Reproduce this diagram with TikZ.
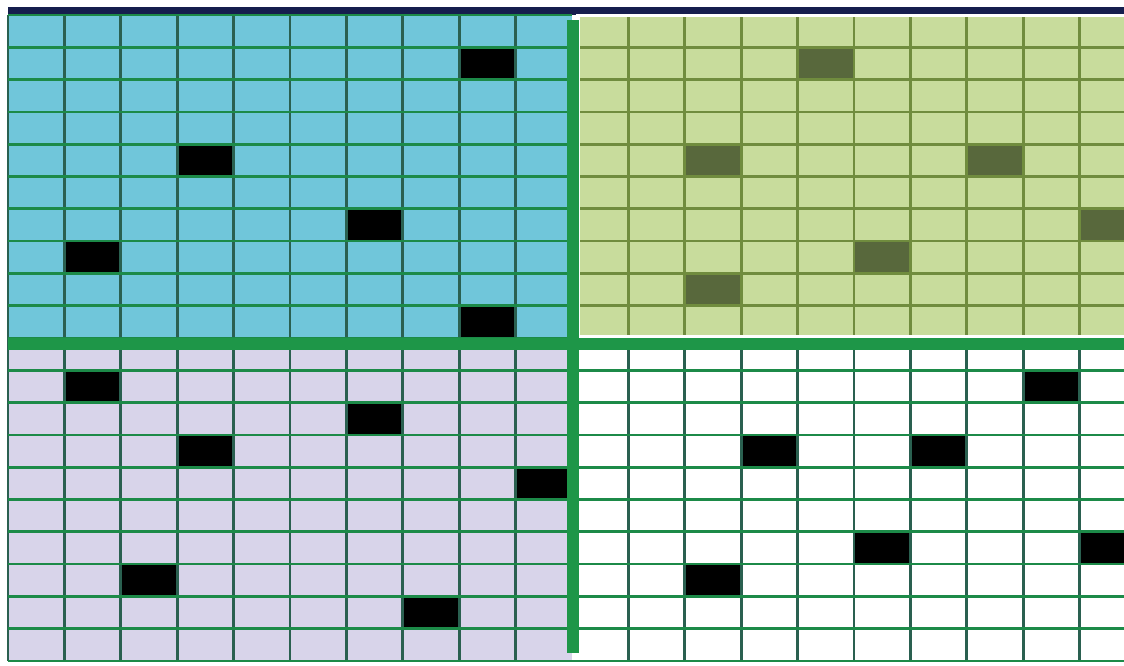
\documentclass[tikz,border=0pt]{standalone}
\usepackage{xcolor}
\usepackage{tikz}
\usetikzlibrary{positioning}
\definecolor{tlblue}{RGB}{112,198,218}
\definecolor{trgreen}{RGB}{200,220,156}
\definecolor{bllav}{RGB}{216,212,234}
\definecolor{gridh}{RGB}{28,138,72}
\definecolor{gridv}{RGB}{42,96,80}
\definecolor{olivel}{RGB}{112,140,62}
\definecolor{olived}{RGB}{88,104,60}
\definecolor{sepgreen}{RGB}{30,150,72}
\definecolor{navy}{RGB}{22,30,78}

\begin{document}
\begin{tikzpicture}[x=0.75pt, y=-0.75pt,
  hline/.style={line width=2pt, draw=gridh},
  vline/.style={line width=2pt, draw=gridv},
  oline/.style={line width=2pt, draw=olivel},
  sep/.style={line width=8.5pt, draw=sepgreen}]
\useasboundingbox (0,0) rectangle (1124,665);
% four panels: 20 columns x 20 rows of cells
\fill[navy] (8,7) rectangle (1124,15);
\fill[tlblue] (8,15) rectangle (572,338);
\fill[white] (576,14) rectangle (1124,338);
\fill[trgreen] (580,17) rectangle (1124,335);
\fill[bllav] (8,338) rectangle (572,661);

% marked cells
\foreach \c/\r in {9/2,4/5,7/7,2/8,9/10,2/12,7/13,4/14,10/15,3/18,8/19,19/12,14/14,17/14,16/17,20/17,13/18}
  \fill[black] (8+\c*56.4-56.4,15+\r*32.3-32.3) rectangle ++(56.4,32.3);
\foreach \c/\r in {15/2,13/5,18/5,20/7,16/8,13/9}
  \fill[olived] (8+\c*56.4-56.4,15+\r*32.3-32.3) rectangle ++(56.4,32.3);

% grid lines
\foreach \c in {0,...,9} \draw[vline] (8+\c*56.4,15) -- (8+\c*56.4,661);
\foreach \c in {11,...,19} {
  \draw[oline] (8+\c*56.4,17) -- (8+\c*56.4,335);
  \draw[vline] (8+\c*56.4,350) -- (8+\c*56.4,661);
}
\foreach \r in {0,...,10} \draw[hline] (8,15+\r*32.3) -- (572,15+\r*32.3);
\foreach \r in {11,...,20} \draw[hline] (8,15+\r*32.3) -- (1124,15+\r*32.3);
\foreach \r in {1,...,9} \draw[oline] (580,15+\r*32.3) -- (1124,15+\r*32.3);

% panel separators
\draw[sep] (8,344) -- (1124,344);
\draw[sep] (573,20) -- (573,653);
\end{tikzpicture}
\end{document}
